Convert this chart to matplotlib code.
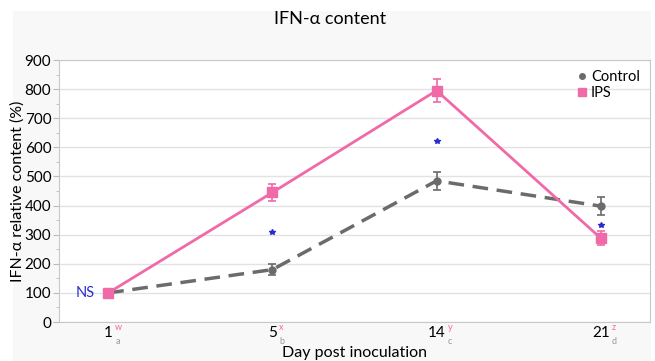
import numpy as np
import matplotlib
matplotlib.use('Agg')
from matplotlib import pyplot as plt
from matplotlib.patches import Rectangle

# data
days = ['1', '5', '14', '21']
sup_letters = ['w', 'x', 'y', 'z']
sub_letters = ['a', 'b', 'c', 'd']
control = [100, 180, 485, 398]
control_err = [5, 20, 30, 30]
ips = [100, 445, 795, 288]
ips_err = [8, 30, 40, 25]
star_days = [1, 2, 3]
star_y = [308, 623, 332]

PINK = '#f06aa8'
GRAY = '#6b6b6b'

plt.rcParams['font.family'] = ['Lato', 'DejaVu Sans']


def main():
    fig = plt.figure(figsize=[6.55, 3.61], dpi=100)
    fig.patches.append(Rectangle((13 / 655, 0), (651 - 13) / 655, (361 - 11) / 361,
                                 transform=fig.transFigure, facecolor='#f8f8f8',
                                 edgecolor='none', zorder=-10))
    ax = fig.add_axes([59 / 655, 1 - 322 / 361, (650 - 59) / 655, (322 - 60) / 361])
    x = np.arange(len(days))

    ax.errorbar(x, control, yerr=control_err, color=GRAY, lw=2.5, ls=(0, (4.5, 2.5)),
                marker='o', ms=5, capsize=3, elinewidth=1.2, capthick=1.2, zorder=3)
    ax.errorbar(x, ips, yerr=ips_err, color=PINK, lw=2, marker='s', ms=7,
                capsize=3, elinewidth=1.2, capthick=1.2, zorder=4)

    ax.plot(star_days, star_y, ls='none', marker='*', ms=4, color='#2b2bd0', zorder=5)
    ax.text(-0.08, 100, 'NS', color='#2b2bd0', fontsize=10.5, ha='right', va='center')

    ax.set_xlim(-0.3, 3.3)
    ax.set_ylim(0, 900)
    ax.set_yticks(np.arange(0, 901, 100))
    ax.set_yticks(np.arange(50, 900, 100), minor=True)
    ax.set_xticks(x)
    ax.set_xticklabels(days, fontsize=11)
    ax.tick_params(axis='y', labelsize=11, length=4, color='#bbbbbb', pad=1.5)
    ax.tick_params(axis='y', which='minor', length=2, color='#bbbbbb')
    ax.tick_params(axis='x', length=0, pad=3)
    ax.yaxis.grid(True, color='#e2e2e2', lw=1)
    ax.set_axisbelow(True)
    for sp in ax.spines.values():
        sp.set_color('#c8c8c8')

    # superscript / subscript letters next to the day labels
    for xi, d, sp, sb in zip(x, days, sup_letters, sub_letters):
        off = 2.2 + 2.8 * len(d)
        ax.annotate(sp, xy=(xi, 0), xycoords=('data', 'axes fraction'),
                    xytext=(off, -4), textcoords='offset points',
                    color=PINK, fontsize=6.5, ha='left', va='center')
        ax.annotate(sb, xy=(xi, 0), xycoords=('data', 'axes fraction'),
                    xytext=(off, -14), textcoords='offset points',
                    color='#999999', fontsize=6.5, ha='left', va='center')

    ax.set_ylabel('IFN-α relative content (%)', fontsize=11.5, labelpad=0)
    ax.set_xlabel('Day post inoculation', fontsize=11.5, labelpad=4)
    fig.text(330 / 655, 1 - 19 / 361, 'IFN-α content', fontsize=13, ha='center', va='center')

    h1 = plt.Line2D([], [], color=GRAY, marker='o', ls='none', ms=4)
    h2 = plt.Line2D([], [], color=PINK, marker='s', ls='none', ms=6)
    ax.legend([h1, h2], ['Control', 'IPS'], loc='upper right', frameon=False,
              fontsize=10.5, handlelength=0.6, handletextpad=0.3, labelspacing=0.1,
              borderaxespad=0.3)

    fig.savefig('out.png', dpi=100, facecolor='white')


if __name__ == '__main__':
    main()
